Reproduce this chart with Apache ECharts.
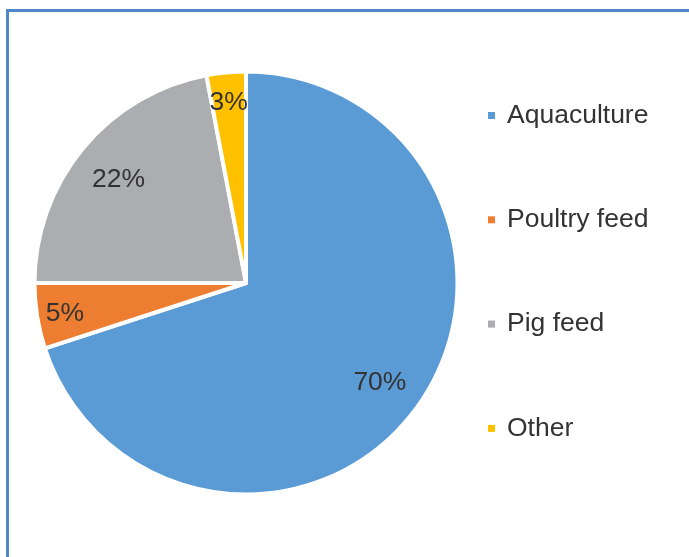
<!DOCTYPE html>
<html>
<head>
<meta charset="utf-8">
<script src="https://cdn.jsdelivr.net/npm/echarts@6/dist/echarts.min.js"></script>
<style>
  html, body { margin: 0; padding: 0; background: #ffffff; }
  #chart { width: 689px; height: 557px; }
</style>
</head>
<body>
<div id="chart"></div>
<script>
// Feed use shares (percent)
const categories = ['Aquaculture', 'Poultry feed', 'Pig feed', 'Other'];
const shares = [70, 5, 22, 3];
const colors = ['#5b9bd5', '#ed7d31', '#abadb0', '#ffc000'];

const center = [246, 283];
const radius = 211.5;
const textColor = '#333333';
const fontFamily = 'Arial, "Liberation Sans", sans-serif';

// Mid angle of each slice, clockwise from 12 o'clock
const total = shares.reduce((a, b) => a + b, 0);
const midAngles = [];
let acc = 0;
shares.forEach(v => {
  midAngles.push(((acc + v / 2) / total) * 2 * Math.PI);
  acc += v;
});
// Narrow slices get their label pushed further toward the rim
const labelRadius = shares.map(v => (v / total < 0.1 ? 0.875 : 0.79) * (radius - 2));

const chart = echarts.init(document.getElementById('chart'), null, { renderer: 'canvas' });

chart.setOption({
  backgroundColor: '#ffffff',
  animation: false,
  color: colors,
  graphic: [{
    type: 'rect',
    shape: { x: 7.5, y: 10.5, width: 800, height: 800 },
    style: { fill: 'none', stroke: '#4f86c6', lineWidth: 3 },
    silent: true
  }],
  legend: {
    orient: 'vertical',
    left: 488,
    top: 102,
    padding: 0,
    itemGap: 77.3,
    itemWidth: 7,
    itemHeight: 7,
    icon: 'rect',
    itemStyle: { borderWidth: 0 },
    data: categories,
    textStyle: {
      color: textColor,
      fontSize: 26.5,
      lineHeight: 26,
      fontFamily: fontFamily,
      padding: [0, 0, 0, 7]
    }
  },
  series: [{
    type: 'pie',
    center: center,
    radius: [0, radius],
    startAngle: 90,
    clockwise: true,
    avoidLabelOverlap: false,
    itemStyle: { borderColor: '#ffffff', borderWidth: 4 },
    label: {
      show: true,
      position: 'inside',
      formatter: p => p.value + '%',
      color: textColor,
      fontSize: 26.5,
      fontFamily: fontFamily
    },
    labelLine: { show: false },
    labelLayout: p => {
      const a = midAngles[p.dataIndex];
      const r = labelRadius[p.dataIndex];
      return {
        x: center[0] + r * Math.sin(a),
        y: center[1] - r * Math.cos(a) + 2,
        align: 'center',
        verticalAlign: 'middle'
      };
    },
    emphasis: { disabled: true },
    data: categories.map((name, i) => ({ name: name, value: shares[i] }))
  }]
});
</script>
</body>
</html>
